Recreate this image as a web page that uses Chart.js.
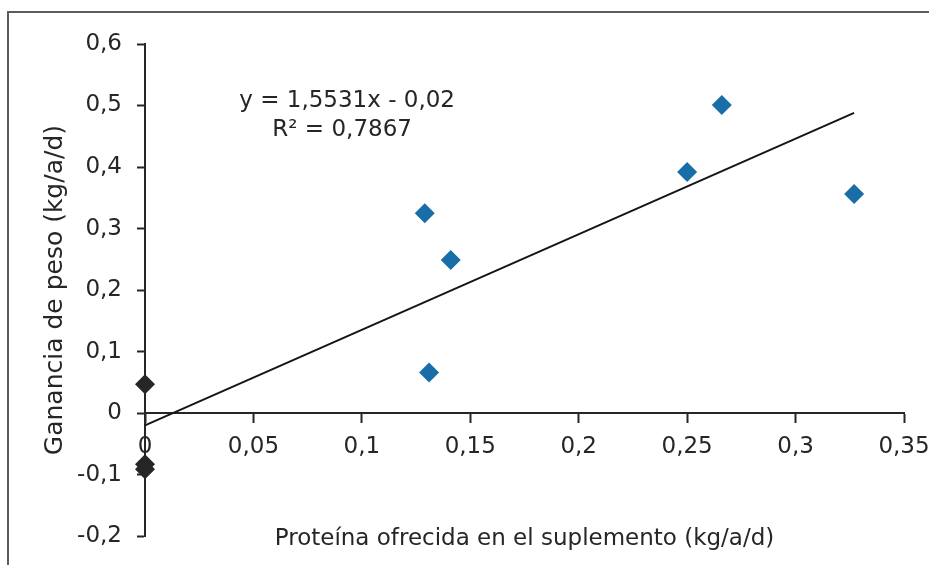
<!DOCTYPE html>
<html>
<head>
<meta charset="utf-8">
<script src="https://cdn.jsdelivr.net/npm/chart.js@4"></script>
<style>
html,body{margin:0;padding:0;background:#fff;overflow:hidden;}
#wrap{position:relative;width:929px;height:565px;overflow:hidden;}
#frame{position:absolute;left:7px;top:11px;width:1000px;height:1000px;border:2px solid #5c5c5c;}
canvas{position:absolute;left:0;top:0;}
</style>
</head>
<body>
<div id="wrap"><div id="frame"></div><canvas id="c" width="929" height="565"></canvas></div>
<script>
// Supplemented treatments (blue diamonds)
const supplementX = [0.129, 0.141, 0.131, 0.266, 0.250, 0.327];
const supplementY = [0.325, 0.249, 0.066, 0.501, 0.392, 0.356];
// Unsupplemented controls (black diamonds)
const controlX = [0, 0, 0];
const controlY = [0.047, -0.083, -0.091];
// Trend line end points
const trendX = [0, 0.327];
const trendY = [-0.02, 0.488];
// Equation labels and their anchor (data coordinates)
const eqLines = ['y = 1,5531x - 0,02', 'R² = 0,7867'];
const eqX = [0.0932, 0.0909];
const eqY = [0.507, 0.460];
// Axis settings
const xMin = 0, xMax = 0.35, xStep = 0.05;
const yMin = -0.2, yMax = 0.6, yStep = 0.1;
const xTitle = 'Proteína ofrecida en el suplemento (kg/a/d)';
const yTitle = 'Ganancia de peso (kg/a/d)';

const FONT = 'DejaVu Sans';
const TXT = '#262626';
const AX = '#262626';
const fmt = v => String(Math.round(v * 100) / 100).replace('.', ',');
const pts = (xs, ys) => xs.map((x, i) => ({x: x, y: ys[i]}));

const eqPlugin = {
  id: 'eq',
  afterDatasetsDraw(chart) {
    const {ctx, scales} = chart;
    ctx.save();
    ctx.font = '23px "' + FONT + '"';
    ctx.fillStyle = TXT;
    ctx.textAlign = 'center';
    ctx.textBaseline = 'middle';
    eqLines.forEach((t, i) => {
      ctx.fillText(t, scales.x.getPixelForValue(eqX[i]), scales.y.getPixelForValue(eqY[i]));
    });
    ctx.restore();
  }
};

new Chart(document.getElementById('c'), {
  type: 'scatter',
  data: {
    datasets: [
      {
        type: 'line',
        label: 'Tendencia',
        data: pts(trendX, trendY),
        borderColor: '#151515',
        borderWidth: 2,
        pointRadius: 0,
        fill: false,
        showLine: true,
        clip: false,
        order: 0
      },
      {
        label: 'Con suplemento',
        data: pts(supplementX, supplementY),
        pointStyle: 'rectRot',
        pointRadius: 10,
        backgroundColor: '#1a6ea8',
        borderColor: '#1a6ea8',
        borderWidth: 0,
        clip: false,
        order: 1
      },
      {
        label: 'Sin suplemento',
        data: pts(controlX, controlY),
        pointStyle: 'rectRot',
        pointRadius: 10,
        backgroundColor: '#262626',
        borderColor: '#262626',
        borderWidth: 0,
        clip: false,
        order: 1
      }
    ]
  },
  plugins: [eqPlugin],
  options: {
    responsive: false,
    animation: false,
    devicePixelRatio: 1,
    layout: {padding: {left: 0, top: 44, right: 25, bottom: 0}},
    plugins: {legend: {display: false}, tooltip: {enabled: false}},
    scales: {
      x: {
        type: 'linear',
        position: {y: 0},
        min: xMin, max: xMax,
        ticks: {stepSize: xStep, callback: fmt, color: TXT, font: {family: FONT, size: 23}, padding: 11, maxRotation: 0, autoSkip: false},
        grid: {drawOnChartArea: false, drawTicks: true, tickLength: 9, tickColor: AX, tickWidth: 2},
        border: {color: AX, width: 2},
        afterFit(s) { s.paddingLeft = 0; s.paddingRight = 0; }
      },
      x2: {
        type: 'linear',
        position: 'bottom',
        min: xMin, max: xMax,
        ticks: {display: false},
        grid: {display: false},
        border: {display: false},
        title: {display: true, text: xTitle, color: TXT, font: {family: FONT, size: 23}, padding: {top: 0, bottom: 11}},
        afterFit(s) { s.height = 28; s.paddingLeft = 0; s.paddingRight = 0; }
      },
      y: {
        type: 'linear',
        position: 'left',
        min: yMin, max: yMax,
        ticks: {stepSize: yStep, callback: fmt, color: TXT, font: {family: FONT, size: 23}, padding: 15},
        grid: {drawOnChartArea: false, drawTicks: true, tickLength: 8, tickColor: AX, tickWidth: 2},
        border: {color: AX, width: 2},
        title: {display: true, text: yTitle, color: TXT, font: {family: FONT, size: 25}, padding: {top: 40, bottom: 0}},
        afterFit(s) { s.width = 145; }
      }
    }
  }
});
</script>
</body>
</html>
